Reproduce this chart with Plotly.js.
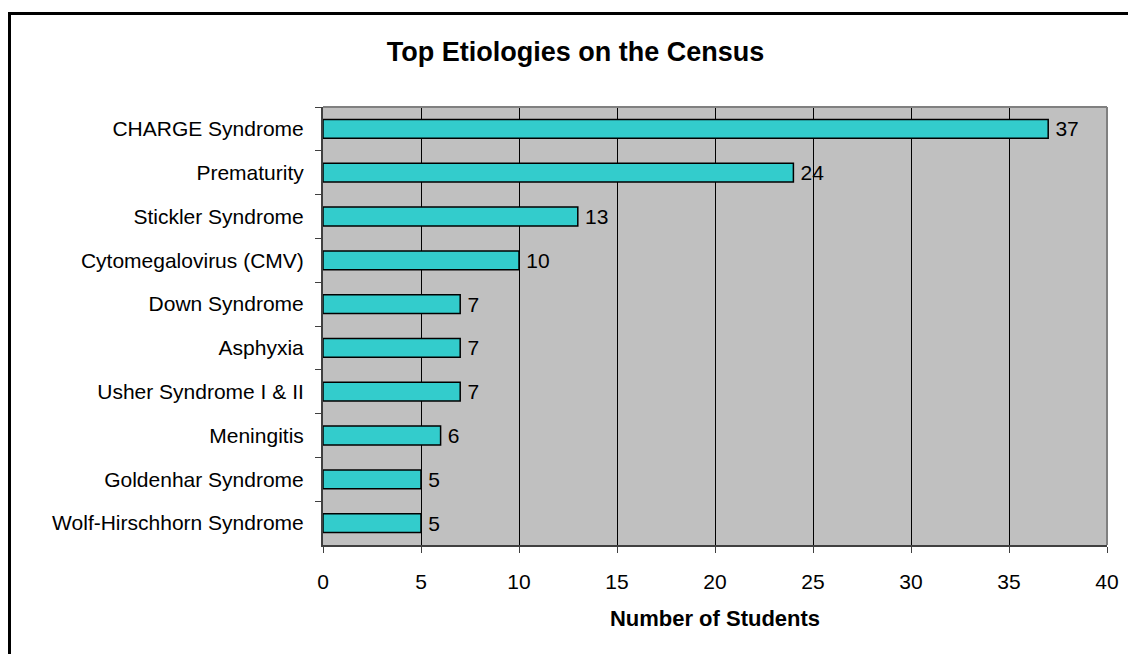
<!DOCTYPE html>
<html>
<head>
<meta charset="utf-8">
<script src="https://cdn.plot.ly/plotly-3.0.1.min.js"></script>
<style>
html,body{margin:0;padding:0;background:#fff;}
#chart{width:1128px;height:654px;}
</style>
</head>
<body>
<div id="chart"></div>
<script>
// Data
const categories = [
  "CHARGE Syndrome",
  "Prematurity",
  "Stickler Syndrome",
  "Cytomegalovirus (CMV)",
  "Down Syndrome",
  "Asphyxia",
  "Usher Syndrome I & II",
  "Meningitis",
  "Goldenhar Syndrome",
  "Wolf-Hirschhorn Syndrome"
];
const students = [37, 24, 13, 10, 7, 7, 7, 6, 5, 5];
const xTickValues = [0, 5, 10, 15, 20, 25, 30, 35, 40];
const chartTitle = "Top Etiologies on the Census";
const xTitle = "Number of Students";

const FONT = "Liberation Sans, Arial, sans-serif";

const trace = {
  type: "bar",
  orientation: "h",
  y: categories,
  x: students,
  text: students.map(v => "\u2009" + v),
  textposition: "outside",
  constraintext: "none",
  cliponaxis: false,
  textfont: {family: FONT, size: 21, color: "#000"},
  marker: {color: "#33CCCC", line: {color: "#000", width: 1.5}},
  hoverinfo: "none"
};

const L = 323, R = 1107, T = 107, B = 545;
const W = 1128, H = 654;
const px = v => (v - L) / (R - L);
const py = v => (B - v) / (B - T);

const layout = {
  width: W, height: H,
  margin: {l: L, r: W - R, t: T, b: H - B, pad: 0},
  paper_bgcolor: "#ffffff",
  plot_bgcolor: "#C0C0C0",
  showlegend: false,
  bargap: 0.57,
  font: {family: FONT, color: "#000"},
  title: {
    text: "<b>" + chartTitle + "</b>",
    font: {family: FONT, size: 27, color: "#000"},
    xref: "container", yref: "container",
    x: 575.5 / W, xanchor: "center",
    y: 1 - 51.5 / H, yanchor: "middle"
  },
  xaxis: {
    range: [0, 40],
    tickvals: xTickValues,
    ticktext: xTickValues.map(String),
    showgrid: true, gridcolor: "#000000", gridwidth: 1,
    zeroline: false,
    showline: true, linecolor: "#404040", linewidth: 2,
    ticks: "outside", ticklen: 6, tickcolor: "#404040", tickwidth: 1,
    tickfont: {family: FONT, size: 21, color: "#000"},
    ticklabelstandoff: 11,
    title: {text: "<b>" + xTitle + "</b>", font: {family: FONT, size: 22, color: "#000"}, standoff: 18},
    fixedrange: true
  },
  yaxis: {
    autorange: "reversed",
    type: "category",
    showgrid: false, zeroline: false,
    showline: true, linecolor: "#404040", linewidth: 2,
    ticks: "outside", tickson: "boundaries", ticklen: 6, tickcolor: "#404040", tickwidth: 1,
    tickfont: {family: FONT, size: 21, color: "#000"},
    ticklabelstandoff: 13,
    fixedrange: true
  },
  shapes: [
    // plot area border (top / right)
    {type: "line", xref: "paper", yref: "paper", x0: 0, x1: 1, y0: 1, y1: 1, line: {color: "#808080", width: 2}},
    {type: "line", xref: "paper", yref: "paper", x0: 1, x1: 1, y0: 0, y1: 1, line: {color: "#808080", width: 2}},
    // outer chart frame (top / left, cropped by the picture)
    {type: "line", xref: "paper", yref: "paper", x0: px(8), x1: px(1140), y0: py(13.5), y1: py(13.5), line: {color: "#000", width: 3}},
    {type: "line", xref: "paper", yref: "paper", x0: px(9.5), x1: px(9.5), y0: py(12), y1: py(670), line: {color: "#000", width: 3}}
  ]
};

Plotly.newPlot("chart", [trace], layout, {displayModeBar: false, staticPlot: true});
</script>
</body>
</html>
